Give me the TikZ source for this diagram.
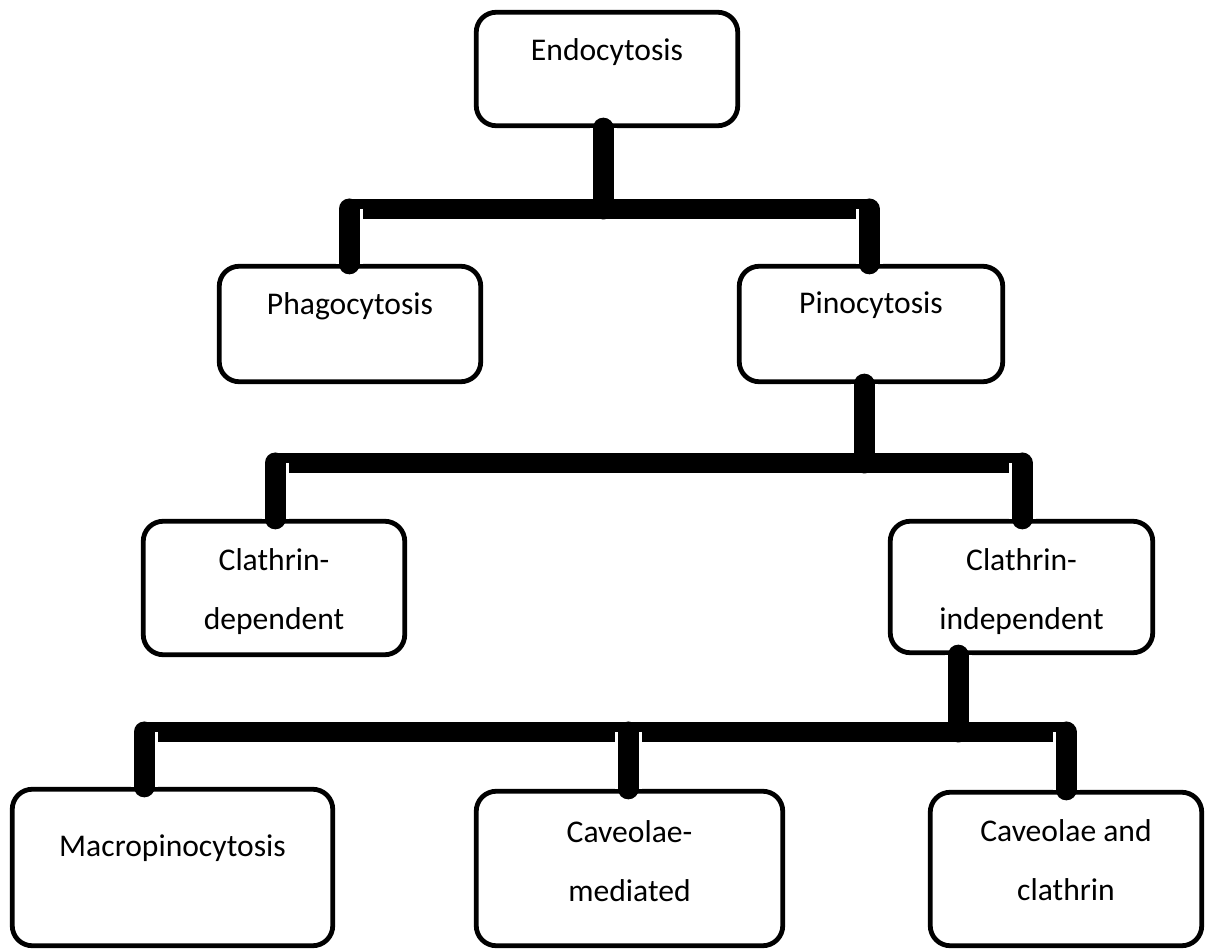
\documentclass[tikz,border=0pt]{standalone}
\usepackage{fontspec}
\setmainfont{Carlito}
\usetikzlibrary{positioning}

\begin{document}
\begin{tikzpicture}[x=0.5pt,y=-0.5pt,
    box/.style={rectangle,draw,rounded corners=10pt,line width=2.4pt,inner sep=0pt},
    txt/.style={anchor=north,inner sep=0pt,align=center,font=\fontsize{15.8pt}{29.5pt}\selectfont},
    stem/.style={line width=10.5pt,line cap=round,preaction={draw=white,line width=13.5pt}},
    bar/.style={line width=10pt}]

    \useasboundingbox (0,0) rectangle (1206,951);

    \node[box][minimum width=130.75pt,minimum height=56.75pt][label={[txt,yshift=-14pt]north:Endocytosis}](1) at (607,69){};
    \node[box][minimum width=130.75pt,minimum height=57.75pt][label={[txt,yshift=-14pt]north:Phagocytosis}](2) at (350,324){};
    \node[box][minimum width=131.75pt,minimum height=57.75pt][label={[txt,yshift=-14pt]north:Pinocytosis}](3) at (871,324){};
    \node[box][minimum width=130.75pt,minimum height=66.75pt][label={[txt,yshift=-14.5pt]north:Clathrin-\\dependent}](4) at (274,588){};
    \node[box][minimum width=131.25pt,minimum height=65.75pt][label={[txt,yshift=-14.5pt]north:Clathrin-\\independent}](5) at (1021.5,587){};
    \node[box][minimum width=160.25pt,minimum height=78.25pt][label={[txt,yshift=-24pt]north:Macropinocytosis}](6) at (172.5,867.5){};
    \node[box][minimum width=153.25pt,minimum height=77.25pt][label={[txt,yshift=-15.5pt]north:Caveolae-\\mediated}](7) at (629.5,868.5){};
    \node[box][minimum width=135.75pt,minimum height=76.75pt][label={[txt,yshift=-14.5pt]north:Caveolae and\\clathrin}](8) at (1066,869){};

    % joints on the bars
    \coordinate (j1) at (603,209);
    \coordinate (j1l) at (349,209);
    \coordinate (j1r) at (869,209);
    \coordinate (j2) at (864,463);
    \coordinate (j2l) at (275,463);
    \coordinate (j2r) at (1022,463);
    \coordinate (j3) at (958,732);
    \coordinate (j3l) at (144,732);
    \coordinate (j3m) at (628,732);
    \coordinate (j3r) at (1066,732);

    \draw[stem] (1.south -| j1) -- (j1);
    \draw[stem] (3.south -| j2) -- (j2);
    \draw[stem] (5.south -| j3) -- (j3);

    \draw[bar] (j1l) -- (j1r);
    \draw[bar] (j2l) -- (j2r);
    \draw[bar] (j3l) -- (j3r);

    \draw[stem] (j1l) -- (2.north -| j1l);
    \draw[stem] (j1r) -- (3.north -| j1r);
    \draw[stem] (j2l) -- (4.north -| j2l);
    \draw[stem] (j2r) -- (5.north -| j2r);
    \draw[stem] (j3l) -- (6.north -| j3l);
    \draw[stem] (j3m) -- (7.north -| j3m);
    \draw[stem] (j3r) -- (8.north -| j3r);

\end{tikzpicture}
\end{document}
